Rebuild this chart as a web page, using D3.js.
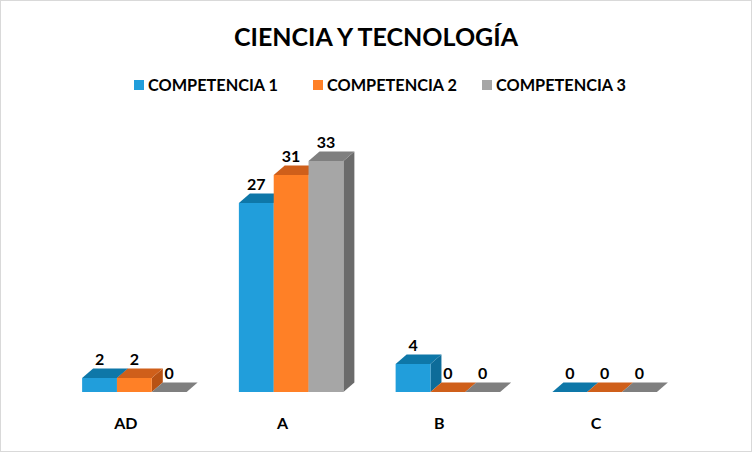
<!DOCTYPE html>
<html><head><meta charset="utf-8">
<script src="https://cdn.jsdelivr.net/npm/d3@7/dist/d3.min.js"></script>
<style>html,body{margin:0;padding:0;background:#fff}svg{display:block}</style>
</head><body>
<script>
const categories = ["AD", "A", "B", "C"];
const seriesNames = ["COMPETENCIA 1", "COMPETENCIA 2", "COMPETENCIA 3"];
const competencia1 = [2, 27, 4, 0];
const competencia2 = [2, 31, 0, 0];
const competencia3 = [0, 33, 0, 0];
const seriesValues = [competencia1, competencia2, competencia3];
const titleText = "CIENCIA Y TECNOLOGÍA";

const W = 752, H = 452;
const colors = [
  {front:"#219EDB", top:"#0E77A8", side:"#0D6C99"},
  {front:"#FF8026", top:"#CF5F1A", side:"#B85214"},
  {front:"#A6A6A6", top:"#7F7F7F", side:"#6B6B6B"}
];
const dx = 11, dy = 9.5;
const font = "Lato, 'Open Sans', sans-serif";

const svg = d3.select("body").append("svg").attr("width", W).attr("height", H);
svg.append("rect").attr("x",0.5).attr("y",0.5).attr("width",W-1).attr("height",H-1)
  .attr("fill","#fff").attr("stroke","#D9D9D9");

svg.append("text").attr("x",376).attr("y",46).attr("text-anchor","middle")
  .attr("font-family",font).attr("font-weight","bold").attr("font-size",25)
  .attr("fill","#000").text(titleText);

// legend
const legX = [134, 313, 482];
seriesNames.forEach((s,i)=>{
  const g = svg.append("g");
  g.append("rect").attr("x",legX[i]).attr("y",80).attr("width",10).attr("height",10).attr("fill",colors[i].front);
  g.append("text").attr("x",legX[i]+14).attr("y",91).attr("font-family",font).attr("font-weight","bold")
    .attr("font-size",16.3).attr("fill","#000").text(s);
});

const x = d3.scaleBand().domain(categories).range([56, 683]).paddingInner(1/3).paddingOuter(1/6);
const xs = d3.scaleBand().domain(d3.range(seriesNames.length)).range([0, x.bandwidth()]);
const y = d3.scaleLinear().domain([0, 35]).range([392, 147]);

const bars = [];
categories.forEach((c,ci)=>{
  seriesValues.forEach((vals,si)=>{
    bars.push({c, si, v: vals[ci]});
  });
});

const g = svg.append("g");
bars.forEach(b=>{
  const x0 = x(b.c) + xs(b.si), w = xs.bandwidth();
  const y0 = y(0), y1 = y(b.v);
  const col = colors[b.si];
  g.append("path").attr("d",`M${x0+w},${y1}L${x0+w+dx},${y1-dy}L${x0+w+dx},${y0-dy}L${x0+w},${y0}Z`).attr("fill",col.side);
  g.append("path").attr("d",`M${x0},${y1}L${x0+dx},${y1-dy}L${x0+w+dx},${y1-dy}L${x0+w},${y1}Z`).attr("fill",col.top);
  if (y0 - y1 > 0) g.append("rect").attr("x",x0).attr("y",y1).attr("width",w).attr("height",y0-y1).attr("fill",col.front);
  g.append("text").attr("x",x0+w/2).attr("y",y1-dy-3.5).attr("text-anchor","middle")
    .attr("font-family",font).attr("font-weight","bold").attr("font-size",16).attr("fill","#000").text(b.v);
});

categories.forEach(c=>{
  svg.append("text").attr("x",x(c)+x.bandwidth()/2-8.5).attr("y",429).attr("text-anchor","middle")
    .attr("font-family",font).attr("font-weight","bold").attr("font-size",16).attr("fill","#000").text(c);
});
</script>
</body></html>
